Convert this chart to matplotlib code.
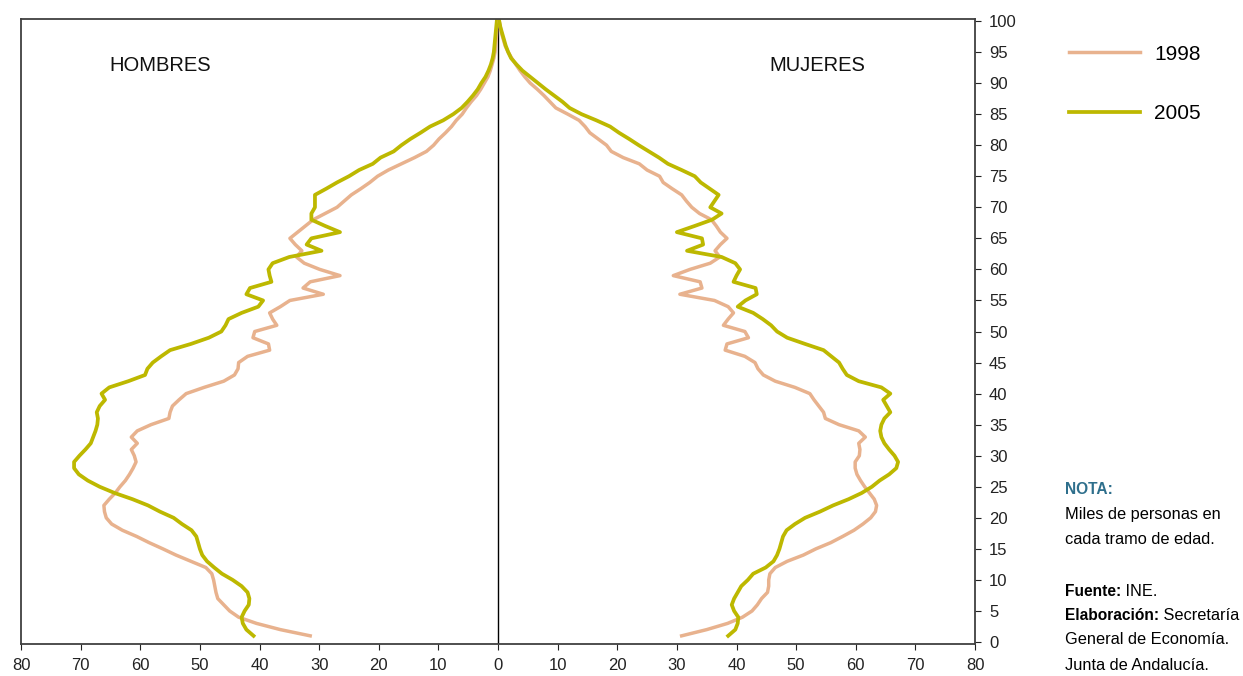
import matplotlib.pyplot as plt

plt.rcParams['font.family'] = ['Liberation Sans', 'DejaVu Sans']

# edades de 1 a 100 años
edades = list(range(1, 101))

hombres_1998 = [31.5, 36.5, 40.5, 43.5, 45.0, 46.0, 47.0, 47.3, 47.5, 47.7,
                48.0, 49.0, 51.5, 54.0, 56.2, 58.5, 60.6, 63.0, 64.8, 65.7,
                66.0, 66.1, 65.2, 64.2, 63.4, 62.5, 61.8, 61.2, 60.7, 61.0,
                61.5, 60.5, 61.5, 60.5, 58.2, 55.2, 55.0, 54.6, 53.5, 52.3,
                49.3, 46.0, 44.2, 43.6, 43.5, 42.0, 38.3, 38.5, 41.1, 40.8,
                37.1, 37.8, 38.3, 36.5, 34.9, 29.3, 32.7, 31.5, 26.5, 29.9,
                32.5, 33.8, 32.9, 34.0, 34.9, 33.6, 32.3, 31.0, 29.0, 27.0,
                25.8, 24.6, 23.0, 21.5, 20.2, 18.4, 16.2, 14.0, 12.0, 10.8,
                9.9, 8.8, 7.8, 7.0, 6.0, 5.3, 4.5, 3.6, 2.9, 2.3,
                1.7, 1.3, 1.0, 0.7, 0.5, 0.4, 0.3, 0.25, 0.2, 0.2]

hombres_2005 = [41.0, 42.2, 42.8, 43.0, 42.5, 41.8, 41.7, 42.0, 43.0, 44.5,
                46.3, 47.6, 48.8, 49.6, 50.0, 50.3, 50.6, 51.4, 53.0, 54.4,
                56.7, 58.7, 61.3, 64.3, 66.8, 68.8, 70.3, 71.1, 71.1, 70.2,
                69.2, 68.3, 67.9, 67.5, 67.2, 67.1, 67.3, 66.8, 65.9, 66.5,
                65.2, 62.0, 59.2, 58.8, 57.9, 56.5, 55.0, 51.5, 48.5, 46.4,
                45.7, 45.2, 43.0, 40.2, 39.4, 42.2, 41.6, 38.0, 38.3, 38.5,
                37.8, 35.0, 29.6, 32.1, 31.3, 26.5, 29.0, 31.3, 31.3, 30.7,
                30.7, 30.7, 28.8, 27.0, 25.0, 23.3, 21.0, 19.7, 17.5, 16.2,
                14.7, 13.0, 11.4, 9.2, 7.5, 6.1, 5.1, 4.2, 3.4, 2.8,
                2.1, 1.6, 1.2, 0.9, 0.7, 0.6, 0.5, 0.4, 0.3, 0.2]

mujeres_1998 = [30.8, 35.0, 38.5, 41.0, 42.6, 43.5, 44.2, 45.2, 45.4, 45.4,
                45.6, 46.5, 48.5, 51.2, 53.3, 55.8, 57.8, 59.7, 61.2, 62.5,
                63.3, 63.5, 63.1, 62.3, 61.5, 60.8, 60.2, 59.9, 59.9, 60.6,
                60.7, 60.5, 61.6, 60.5, 57.2, 54.9, 54.6, 53.8, 53.0, 52.3,
                49.8, 46.5, 44.5, 43.6, 43.1, 41.4, 38.1, 38.4, 42.0, 41.4,
                37.8, 38.6, 39.5, 38.6, 36.3, 30.5, 34.2, 33.9, 29.4, 32.2,
                35.6, 37.2, 36.4, 37.3, 38.4, 37.3, 36.6, 35.8, 33.8, 32.5,
                31.6, 30.8, 29.2, 27.7, 27.1, 25.0, 23.7, 21.0, 19.0, 18.2,
                16.8, 15.4, 14.6, 13.6, 11.7, 9.7, 8.7, 7.7, 6.6, 5.4,
                4.5, 3.7, 3.0, 2.3, 1.7, 1.2, 0.9, 0.6, 0.4, 0.2]

mujeres_2005 = [38.6, 39.8, 40.2, 40.3, 39.6, 39.2, 39.6, 40.2, 40.8, 41.9,
                42.8, 44.9, 46.2, 46.8, 47.2, 47.5, 47.8, 48.4, 49.8, 51.5,
                54.0, 56.2, 58.8, 61.0, 62.7, 64.0, 65.6, 66.8, 67.1, 66.5,
                65.6, 64.8, 64.3, 64.1, 64.3, 64.8, 65.8, 65.2, 64.6, 65.8,
                64.3, 60.5, 58.5, 57.8, 57.2, 55.9, 54.6, 51.5, 48.5, 46.8,
                45.8, 44.4, 42.8, 40.2, 41.5, 43.4, 43.2, 39.5, 40.0, 40.6,
                39.8, 37.5, 31.7, 34.4, 34.2, 30.0, 33.0, 35.9, 37.5, 35.6,
                36.3, 37.0, 35.5, 34.0, 33.0, 30.8, 28.5, 27.0, 25.3, 23.6,
                22.0, 20.3, 18.8, 16.5, 14.0, 12.0, 10.8, 9.4, 8.0, 6.7,
                5.4, 4.1, 3.1, 2.2, 1.7, 1.3, 1.0, 0.7, 0.4, 0.2]

xticks = list(range(-80, 81, 10))
yticks = list(range(0, 101, 5))

c98 = '#E8B28E'
c05 = '#BDB800'

fig = plt.figure(figsize=(12.43, 6.76), dpi=100)
ax = fig.add_axes([0.0169, 0.0473, 0.7675, 0.9246])

# hombres a la izquierda (valores negativos)
l98, = ax.plot([-v for v in hombres_1998], edades, color=c98, lw=2.5, label='1998')
l05, = ax.plot([-v for v in hombres_2005], edades, color=c05, lw=2.7, label='2005')
ax.plot(mujeres_1998, edades, color=c98, lw=2.5)
ax.plot(mujeres_2005, edades, color=c05, lw=2.7)
ax.axvline(0, color='black', lw=1, zorder=1)

ax.set_xlim(-80, 80)
ax.set_ylim(-0.32, 100.32)
ax.set_xticks(xticks)
ax.set_xticklabels([str(abs(t)) for t in xticks])
ax.set_yticks(yticks)
ax.yaxis.tick_right()
ax.tick_params(axis='x', direction='out', length=4, pad=6, labelsize=12, colors='#222222')
ax.tick_params(axis='y', direction='out', length=4, pad=6, labelsize=12, colors='#222222')
for s in ax.spines.values():
    s.set_color('#404040')
    s.set_linewidth(1.3)

ax.text(-56.7, 92.8, 'HOMBRES', fontsize=14.5, ha='center', va='center', color='#111111')
ax.text(53.5, 92.8, 'MUJERES', fontsize=14.5, ha='center', va='center', color='#111111')

fig.legend(handles=[l98, l05], loc='upper left', bbox_to_anchor=(1050 / 1243, 1 - 26 / 676),
           frameon=False, fontsize=15, handlelength=3.4, handletextpad=0.7,
           labelspacing=1.95)

# notas
fam = ['Liberation Sans Narrow', 'Liberation Sans']
x0 = 1065 / 1243
fs = 11.8
fsb = 11.2
def fy(py):
    return 1 - py / 676

fig.text(x0, fy(490), 'NOTA:', family=fam, fontsize=fsb, weight='bold', color='#2E6F8C', va='center')
fig.text(x0, fy(515), 'Miles de personas en', family=fam, fontsize=fs, va='center')
fig.text(x0, fy(540), 'cada tramo de edad.', family=fam, fontsize=fs, va='center')
t1 = fig.text(x0, fy(591), 'Fuente:', family=fam, fontsize=fsb, weight='bold', va='center')
t2 = fig.text(x0, fy(615), 'Elaboración:', family=fam, fontsize=fsb, weight='bold', va='center')
fig.text(x0, fy(640), 'General de Economía.', family=fam, fontsize=fs, va='center')
fig.text(x0, fy(666), 'Junta de Andalucía.', family=fam, fontsize=fs, va='center')

# colocar la parte normal justo después de la negrita
fig.canvas.draw()
r = fig.canvas.get_renderer()
for t, rest in [(t1, ' INE.'), (t2, ' Secretaría')]:
    bb = t.get_window_extent(r)
    fig.text(bb.x1 / fig.bbox.width, t.get_position()[1], rest, family=fam,
             fontsize=fs, va='center')

fig.savefig('out.png', dpi=100)
